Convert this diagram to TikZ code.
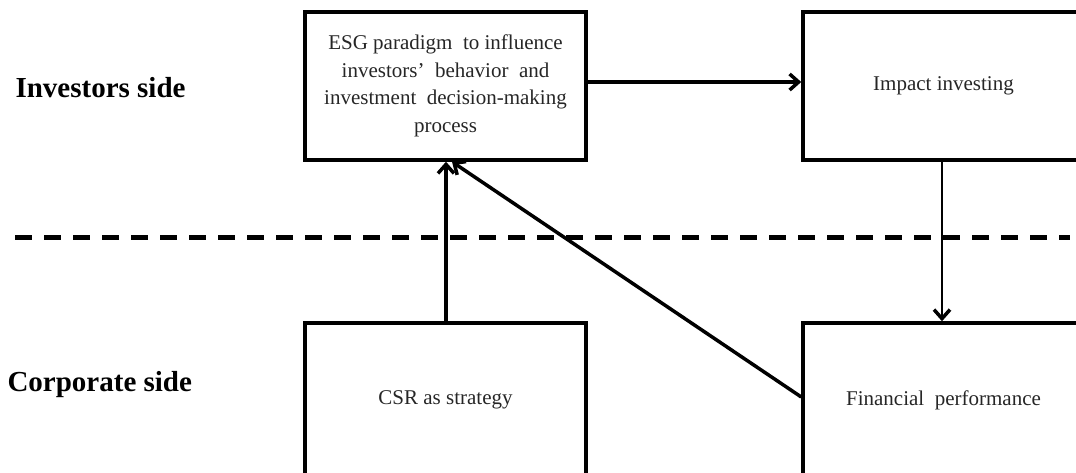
\documentclass[tikz,border=0pt]{standalone}
\usepackage{fontspec}
\setmainfont{Liberation Serif}
\usetikzlibrary{arrows.meta, positioning}

\begin{document}
\begin{tikzpicture}[
    x=1pt, y=-1pt,
    box/.style={rectangle, minimum width=281pt, minimum height=148pt, draw=black, line width=3.5pt, text=black!85, align=center, font=\fontsize{21}{27.5}\selectfont},
    lowbox/.style={box, minimum height=154pt},
    side/.style={anchor=west, font=\fontsize{29}{34}\selectfont\bfseries},
    arrow/.style={line width=3.5pt, -{Straight Barb[length=9pt, width=16pt, line width=3.5pt]}},
    divider/.style={line width=5pt, dash pattern=on 17pt off 12pt}
]
    \useasboundingbox (0,0) rectangle (1076,473);
    \clip (0,0) rectangle (1076,473);

    \node (esg) [box] at (445.5,86) {ESG paradigm\ \ to influence\\investors'\ \ behavior\ \ and\\investment\ \ decision-making\\process};
    \node (impact) [box] at (943.5,86) {Impact investing};
    \node (csr) [lowbox] at (445.5,400) {CSR as strategy};
    \node (fin) [lowbox] at (943.5,400) {Financial\ \ performance};

    \node (inv) [side] at (12,88) {Investors side};
    \node (corp) [side] at (4,385) {Corporate side};

    \coordinate (dashL) at (15,237);
    \coordinate (dashR) at (1070,237);
    \draw [divider] (dashL) -- (dashR);

    \draw [arrow] (esg.east |- 0,82) -- (impact.west |- 0,82);
    \draw [arrow, line width=2.8pt] (impact.south -| 942,0) -- (fin.north -| 942,0);
    \draw [arrow] (csr.north -| 446,0) -- (esg.south -| 446,0);
    \draw [arrow] (fin.west |- 0,397) -- (esg.south -| 452,0);
\end{tikzpicture}
\end{document}
